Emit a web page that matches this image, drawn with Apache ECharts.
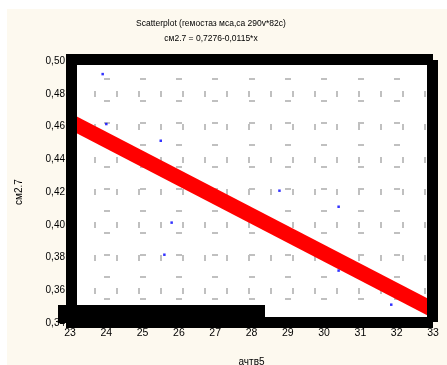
<!DOCTYPE html>
<html>
<head>
<meta charset="utf-8">
<script src="https://cdn.jsdelivr.net/npm/echarts@6/dist/echarts.min.js"></script>
<style>
body{margin:0;background:#fff;}
#chart{width:447px;height:365px;}
</style>
</head>
<body>
<div id="chart"></div>
<script>
// точки (ачтв5, см2.7)
var xValues=[23.9,24.0,25.5,25.8,25.6,28.77,30.4,30.4,31.85];
var yValues=[0.492,0.4615,0.4513,0.4013,0.3817,0.4208,0.411,0.372,0.3512];
// линия регрессии см2.7 = 0,7276-0,0115*x
var fitX=[23,33];
var fitY=[0.4631,0.3481];
var titleLines=['Scatterplot (гемостаз мса,са 290v*82c)','см2.7 = 0,7276-0,0115*x'];

var points=[];
xValues.forEach(function(x,i){points.push([x,yValues[i]]);});
var fit=[];
fitX.forEach(function(x,i){fit.push([x,fitY[i]]);});

var font='"Liberation Sans", Arial, sans-serif';
var gray='#c0c0c0';
var myChart=echarts.init(document.getElementById('chart'));

var option={
  backgroundColor:'#fff',
  animation:false,
  grid:{left:70,top:61,width:363,height:262,show:true,backgroundColor:'#fff',borderWidth:0,outerBoundsMode:'none'},
  xAxis:{
    type:'value',min:23,max:33,interval:1,
    name:'ачтв5',nameLocation:'middle',nameGap:34,
    nameTextStyle:{color:'#000',fontSize:10,fontFamily:font},
    axisLine:{show:false},axisTick:{show:false},
    axisLabel:{color:'#000',fontSize:10.5,fontFamily:font,margin:5},
    splitLine:{show:true,lineStyle:{color:gray,width:6,type:[2,20],dashOffset:5}}
  },
  yAxis:{
    type:'value',min:0.34,max:0.50,interval:0.02,
    name:'см2.7',nameLocation:'middle',nameGap:46,
    nameTextStyle:{color:'#000',fontSize:10,fontFamily:font},
    axisLine:{show:false},axisTick:{show:false},
    axisLabel:{color:'#000',fontSize:10,fontFamily:font,margin:5,
      formatter:function(v){return v.toFixed(2).replace('.',',');}},
    splitLine:{show:true,lineStyle:{color:gray,width:6,type:[2,20],dashOffset:20}}
  },
  series:[{
    type:'line',data:fit,symbol:'none',z:2,
    lineStyle:{color:'#ff0000',width:15}
  },{
    type:'scatter',data:points,symbol:'rect',symbolSize:2.5,z:3,
    itemStyle:{color:'#0000ff'}
  }],
  graphic:[
    {type:'rect',z:-10,silent:true,shape:{x:7,y:9,width:440,height:356},style:{fill:'#fdf9ef'}},
    {type:'text',z:50,x:211,y:24,style:{text:titleLines[0],fontSize:8.5,fontFamily:font,fill:'#000',align:'center',verticalAlign:'middle'}},
    {type:'text',z:50,x:211,y:39,style:{text:titleLines[1],fontSize:8.5,fontFamily:font,fill:'#000',align:'center',verticalAlign:'middle'}},
    // рамка
    {type:'rect',z:100,silent:true,shape:{x:66,y:54,width:367,height:11},style:{fill:'#000'}},
    {type:'rect',z:100,silent:true,shape:{x:66,y:54,width:11,height:269},style:{fill:'#000'}},
    {type:'rect',z:100,silent:true,shape:{x:427,y:60,width:11,height:262},style:{fill:'#000'}},
    {type:'rect',z:100,silent:true,shape:{x:66,y:317,width:367,height:11},style:{fill:'#000'}},
    {type:'rect',z:100,silent:true,shape:{x:58,y:305,width:207,height:18},style:{fill:'#000'}}
  ]
};
myChart.setOption(option);
</script>
</body>
</html>
